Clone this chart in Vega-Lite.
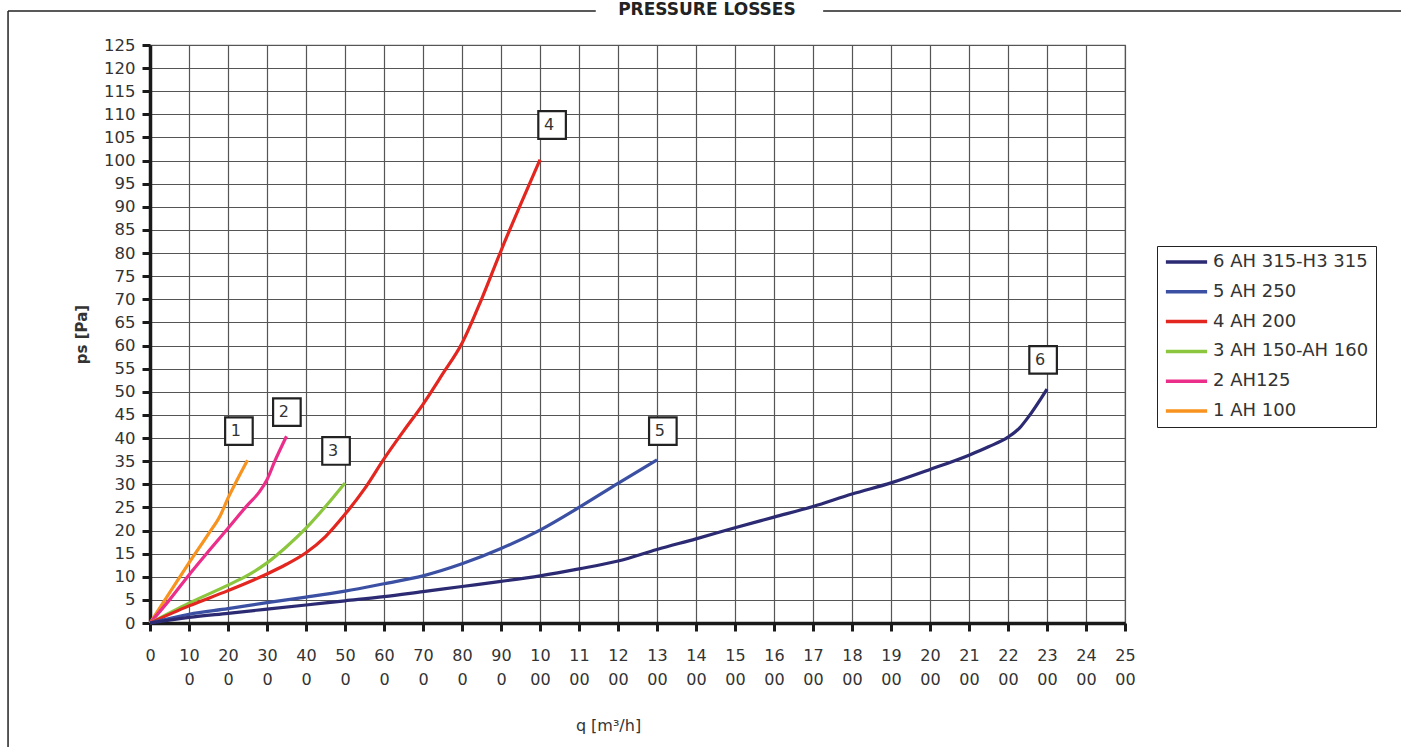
{
  "$schema": "https://vega.github.io/schema/vega-lite/v6.json",
  "width": 975,
  "height": 578,
  "autosize": {"type": "none"},
  "padding": {"left": 150, "top": 45, "right": 276, "bottom": 124},
  "background": "white",
  "config": {
    "font": "DejaVu Sans",
    "view": {"stroke": "#666", "strokeWidth": 1.2}
  },
  "resolve": {"axis": {"x": "independent", "y": "independent"}},
  "datasets": {
    "curves": [
      {"series": "1 AH 100", "q": 0, "p": 0},
      {"series": "1 AH 100", "q": 50, "p": 6.5},
      {"series": "1 AH 100", "q": 100, "p": 13},
      {"series": "1 AH 100", "q": 150, "p": 19.3},
      {"series": "1 AH 100", "q": 180, "p": 23.2},
      {"series": "1 AH 100", "q": 200, "p": 27},
      {"series": "1 AH 100", "q": 225, "p": 31.2},
      {"series": "1 AH 100", "q": 250, "p": 35.2},
      {"series": "2 AH125", "q": 0, "p": 0},
      {"series": "2 AH125", "q": 50, "p": 5},
      {"series": "2 AH125", "q": 100, "p": 10.4},
      {"series": "2 AH125", "q": 150, "p": 15.5},
      {"series": "2 AH125", "q": 200, "p": 20.5},
      {"series": "2 AH125", "q": 250, "p": 25.5},
      {"series": "2 AH125", "q": 280, "p": 28.3},
      {"series": "2 AH125", "q": 300, "p": 31},
      {"series": "2 AH125", "q": 320, "p": 35},
      {"series": "2 AH125", "q": 350, "p": 40.4},
      {"series": "3 AH 150-AH 160", "q": 0, "p": 0},
      {"series": "3 AH 150-AH 160", "q": 100, "p": 4.3},
      {"series": "3 AH 150-AH 160", "q": 200, "p": 8.2},
      {"series": "3 AH 150-AH 160", "q": 250, "p": 10.3},
      {"series": "3 AH 150-AH 160", "q": 300, "p": 13},
      {"series": "3 AH 150-AH 160", "q": 350, "p": 16.5},
      {"series": "3 AH 150-AH 160", "q": 400, "p": 20.5},
      {"series": "3 AH 150-AH 160", "q": 450, "p": 25.2},
      {"series": "3 AH 150-AH 160", "q": 500, "p": 30.3},
      {"series": "4 AH 200", "q": 0, "p": 0},
      {"series": "4 AH 200", "q": 100, "p": 3.7},
      {"series": "4 AH 200", "q": 200, "p": 7},
      {"series": "4 AH 200", "q": 300, "p": 10.6},
      {"series": "4 AH 200", "q": 350, "p": 12.7},
      {"series": "4 AH 200", "q": 400, "p": 15.2},
      {"series": "4 AH 200", "q": 450, "p": 18.7},
      {"series": "4 AH 200", "q": 500, "p": 23.5},
      {"series": "4 AH 200", "q": 550, "p": 29},
      {"series": "4 AH 200", "q": 600, "p": 35.5},
      {"series": "4 AH 200", "q": 650, "p": 41.5},
      {"series": "4 AH 200", "q": 700, "p": 47.3},
      {"series": "4 AH 200", "q": 750, "p": 53.8},
      {"series": "4 AH 200", "q": 800, "p": 60.5},
      {"series": "4 AH 200", "q": 850, "p": 70},
      {"series": "4 AH 200", "q": 900, "p": 80.5},
      {"series": "4 AH 200", "q": 950, "p": 90.5},
      {"series": "4 AH 200", "q": 1000, "p": 100.2},
      {"series": "5 AH 250", "q": 0, "p": 0},
      {"series": "5 AH 250", "q": 100, "p": 1.9},
      {"series": "5 AH 250", "q": 200, "p": 3.1},
      {"series": "5 AH 250", "q": 300, "p": 4.4},
      {"series": "5 AH 250", "q": 400, "p": 5.6},
      {"series": "5 AH 250", "q": 500, "p": 6.9},
      {"series": "5 AH 250", "q": 600, "p": 8.5},
      {"series": "5 AH 250", "q": 700, "p": 10.2},
      {"series": "5 AH 250", "q": 800, "p": 12.8},
      {"series": "5 AH 250", "q": 900, "p": 16.1},
      {"series": "5 AH 250", "q": 1000, "p": 20.1},
      {"series": "5 AH 250", "q": 1100, "p": 25},
      {"series": "5 AH 250", "q": 1200, "p": 30.2},
      {"series": "5 AH 250", "q": 1300, "p": 35.3},
      {"series": "6 AH 315-H3 315", "q": 0, "p": 0},
      {"series": "6 AH 315-H3 315", "q": 100, "p": 1.2},
      {"series": "6 AH 315-H3 315", "q": 200, "p": 2.1},
      {"series": "6 AH 315-H3 315", "q": 300, "p": 3},
      {"series": "6 AH 315-H3 315", "q": 400, "p": 3.9},
      {"series": "6 AH 315-H3 315", "q": 500, "p": 4.8},
      {"series": "6 AH 315-H3 315", "q": 600, "p": 5.7},
      {"series": "6 AH 315-H3 315", "q": 700, "p": 6.8},
      {"series": "6 AH 315-H3 315", "q": 800, "p": 7.9},
      {"series": "6 AH 315-H3 315", "q": 900, "p": 9},
      {"series": "6 AH 315-H3 315", "q": 1000, "p": 10.2},
      {"series": "6 AH 315-H3 315", "q": 1100, "p": 11.7},
      {"series": "6 AH 315-H3 315", "q": 1200, "p": 13.4},
      {"series": "6 AH 315-H3 315", "q": 1300, "p": 15.9},
      {"series": "6 AH 315-H3 315", "q": 1400, "p": 18.2},
      {"series": "6 AH 315-H3 315", "q": 1500, "p": 20.6},
      {"series": "6 AH 315-H3 315", "q": 1600, "p": 22.9},
      {"series": "6 AH 315-H3 315", "q": 1700, "p": 25.2},
      {"series": "6 AH 315-H3 315", "q": 1800, "p": 27.9},
      {"series": "6 AH 315-H3 315", "q": 1900, "p": 30.3},
      {"series": "6 AH 315-H3 315", "q": 2000, "p": 33.2},
      {"series": "6 AH 315-H3 315", "q": 2100, "p": 36.3},
      {"series": "6 AH 315-H3 315", "q": 2150, "p": 38.1},
      {"series": "6 AH 315-H3 315", "q": 2200, "p": 40.2},
      {"series": "6 AH 315-H3 315", "q": 2230, "p": 42.2},
      {"series": "6 AH 315-H3 315", "q": 2250, "p": 44.3},
      {"series": "6 AH 315-H3 315", "q": 2300, "p": 50.6}
    ],
    "labels": [
      {"label": "1", "q": 228, "p": 41.5},
      {"label": "2", "q": 351, "p": 45.6},
      {"label": "3", "q": 477, "p": 37.2},
      {"label": "4", "q": 1031, "p": 107.7},
      {"label": "5", "q": 1315, "p": 41.5},
      {"label": "6", "q": 2290, "p": 56.9}
    ]
  },
  "layer": [
    {
      "data": {"name": "curves"},
      "mark": {"type": "line", "interpolate": "monotone", "strokeWidth": 3.2},
      "encoding": {
        "x": {
          "field": "q", "type": "quantitative",
          "scale": {"domain": [0, 2500], "nice": false, "zero": false},
          "axis": {
            "title": "q [m³/h]",
            "values": [0,100,200,300,400,500,600,700,800,900,1000,1100,1200,1300,1400,1500,1600,1700,1800,1900,2000,2100,2200,2300,2400,2500],
            "labelExpr": "datum.value == 0 ? '0' : [substring(toString(datum.value), 0, 2), substring(toString(datum.value), 2)]",
            "labelLineHeight": 24,
            "labelFontSize": 16,
            "labelColor": "#333",
            "labelPadding": 16,
            "labelFlush": false,
            "labelOverlap": false,
            "domainColor": "#1a1a1a",
            "domainWidth": 3.5,
            "tickColor": "#1a1a1a",
            "tickWidth": 3,
            "tickSize": 8,
            "grid": true,
            "gridColor": "#555",
            "gridWidth": 1.2,
            "titleFontSize": 16,
            "titleFontWeight": "normal",
            "titleColor": "#333",
            "titleX": 458,
            "titleY": 102,
            "titleBaseline": "middle",
            "titleAnchor": "middle"
          }
        },
        "y": {
          "field": "p", "type": "quantitative",
          "scale": {"domain": [0, 125], "nice": false, "zero": false},
          "axis": {
            "title": "ps [Pa]",
            "values": [0,5,10,15,20,25,30,35,40,45,50,55,60,65,70,75,80,85,90,95,100,105,110,115,120,125],
            "labelFontSize": 16.5,
            "labelColor": "#333",
            "labelPadding": 7,
            "labelOverlap": false,
            "domainColor": "#1a1a1a",
            "domainWidth": 3.5,
            "tickColor": "#1a1a1a",
            "tickWidth": 3,
            "tickSize": 8,
            "grid": true,
            "gridColor": "#555",
            "gridWidth": 1.2,
            "titleFontSize": 15,
            "titleFontWeight": "bold",
            "titleColor": "#333",
            "titlePadding": 14
          }
        },
        "color": {
          "field": "series", "type": "nominal",
          "scale": {
            "domain": ["6 AH 315-H3 315", "5 AH 250", "4 AH 200", "3 AH 150-AH 160", "2 AH125", "1 AH 100"],
            "range": ["#2b2a72", "#3b50a3", "#e3261f", "#8cc63f", "#ec2e8b", "#f7931e"]
          },
          "legend": {
            "title": null,
            "orient": "none",
            "legendX": 1007,
            "legendY": 201,
            "strokeColor": "#222",
            "fillColor": "white",
            "padding": 7,
            "symbolType": "stroke",
            "symbolSize": 1700,
            "symbolStrokeWidth": 3.5,
            "clipHeight": 18,
            "labelFontSize": 18,
            "labelColor": "#333",
            "labelOffset": 4,
            "rowPadding": 11.8,
            "labelLimit": 400
          }
        },
        "order": {"field": "q", "type": "quantitative"}
      }
    },
    {
      "data": {"name": "labels"},
      "mark": {"type": "point", "shape": "square", "filled": false, "fill": "white", "fillOpacity": 1, "stroke": "#222", "strokeWidth": 2.2, "size": 760, "opacity": 1},
      "encoding": {
        "x": {"field": "q", "type": "quantitative", "axis": null},
        "y": {"field": "p", "type": "quantitative", "axis": null}
      }
    },
    {
      "data": {"name": "labels"},
      "mark": {"type": "text", "fontSize": 16, "color": "#333", "dx": -3, "baseline": "middle", "align": "center"},
      "encoding": {
        "x": {"field": "q", "type": "quantitative", "axis": null},
        "y": {"field": "p", "type": "quantitative", "axis": null},
        "text": {"field": "label"}
      }
    },
    {
      "data": {"values": [{}]},
      "mark": {"type": "rule", "color": "#222", "strokeWidth": 1.5},
      "encoding": {
        "x": {"datum": -364, "axis": null},
        "x2": {"datum": 1143},
        "y": {"datum": 132.35, "axis": null}
      }
    },
    {
      "data": {"values": [{}]},
      "mark": {"type": "rule", "color": "#222", "strokeWidth": 1.5},
      "encoding": {
        "x": {"datum": 1726, "axis": null},
        "x2": {"datum": 3300},
        "y": {"datum": 132.35, "axis": null}
      }
    },
    {
      "data": {"values": [{}]},
      "mark": {"type": "rule", "color": "#222", "strokeWidth": 1.5},
      "encoding": {
        "x": {"datum": -364, "axis": null},
        "y": {"datum": 132.35, "axis": null},
        "y2": {"datum": -30}
      }
    },
    {
      "data": {"values": [{}]},
      "mark": {"type": "text", "fontSize": 17, "fontWeight": "bold", "color": "#222", "align": "center", "baseline": "middle"},
      "encoding": {
        "x": {"datum": 1428, "axis": null},
        "y": {"datum": 132.6, "axis": null},
        "text": {"value": "PRESSURE LOSSES"}
      }
    }
  ]
}
